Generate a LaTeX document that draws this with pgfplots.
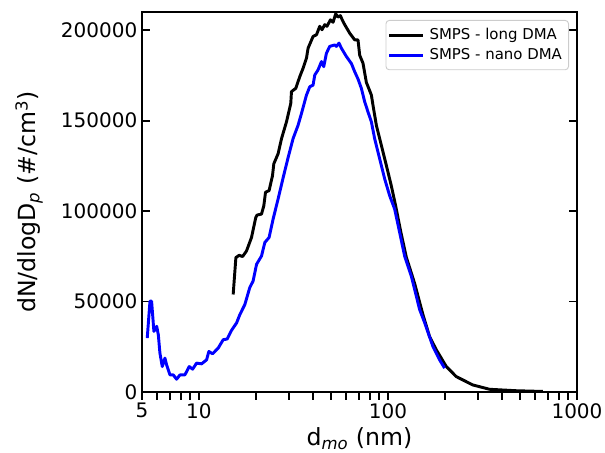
\documentclass[border=0pt]{standalone}
\usepackage{pgfplots}
\pgfplotsset{compat=1.18}
\usepackage{fontspec}
\setmainfont{DejaVu Sans}
\begin{document}
\begin{tikzpicture}
\begin{axis}[
  name=ax,
  scale only axis,
  width=326.25pt, height=285pt,
  xmode=log,
  xmin=5, xmax=1000,
  ymin=0, ymax=210000,
  xtick={5,10,100,1000},
  xticklabels={5,10,100,1000},
  minor xtick={6,7,8,9,20,30,40,50,60,70,80,90,200,300,400,500,600,700,800,900},
  ytick={0,50000,100000,150000,200000},
  scaled y ticks=false,
  yticklabel style={/pgf/number format/fixed,/pgf/number format/1000 sep={}},
  /pgf/number format/assume math mode=true,
  tick label style={font=\fontsize{15}{18}\selectfont},
  label style={font=\fontsize{17.7}{21}\selectfont},
  xtick pos=bottom,
  ytick pos=both,
  tick align=inside,
  major tick length=6pt,
  minor tick length=6pt,
  every tick/.style={black, line width=1.4pt},
  x tick style={yshift=-6pt},
  xticklabel style={yshift=-5pt},
  axis line style={line width=2.2pt},
  xlabel={d\textsubscript{\textit{mo}} (nm)},
  ylabel={dN/dlogD\textsubscript{\textit{p}} (\#/cm\textsuperscript{3})},
  x label style={at={(axis description cs:0.5,-0.142)}, anchor=base},
  y label style={at={(axis description cs:-0.2437,0.5)}, anchor=base},
  legend style={at={(axis description cs:0.9816,0.979)}, anchor=north east,
    draw=black!20, rounded corners=2.5pt, line width=0.7pt,
    font=\fontsize{11.2}{13.5}\selectfont, row sep=0pt,
    inner xsep=1.5pt, inner ysep=3.5pt,
    nodes={inner ysep=2pt, inner xsep=3.5pt, text height=8.5pt, text depth=2.5pt}},
  legend cell align=left,
  legend image code/.code={\draw[#1, line width=2.2pt] (0pt,0pt) -- (25.5pt,0pt);},
]
\addplot[black, line width=2.2pt, line join=round] coordinates {
(15.18,53890) (15.69,74280) (16.33,75560) (17.02,74840) (17.86,77950)
(18.98,85400) (20.00,96510) (20.32,97790) (21.44,98340) (22.05,102950)
(22.51,110400) (23.51,111300) (24.51,119600) (24.90,126100) (26.24,131700)
(27.35,140000) (29.06,149300) (30.62,159500) (30.88,166000) (32.54,167800)
(34.17,174300) (35.56,178900) (37.07,184500) (37.80,190000) (40.17,196500)
(41.87,197400) (43.57,202100) (44.80,200200) (46.30,203000) (47.61,202100)
(49.63,205700) (51.23,204300) (52.93,209000) (54.43,207200) (56.05,208000)
(57.43,205400) (59.06,203000) (62.76,198300) (66.70,194600) (69.43,194600)
(70.88,186100) (73.79,181700) (76.89,171100) (81.72,164100) (83.33,158500)
(86.84,147400) (92.28,136300) (98.07,125200) (104.2,113900) (109.8,102950)
(116.7,88900) (125.1,74450) (138.4,60000) (153.1,42780) (166.1,30560)
(180.2,23330) (203.5,14060) (229.8,8500) (281.2,3890) (344.5,1500)
(476.8,700) (659,300)
};
\addlegendentry{SMPS - long DMA}
\addplot[blue, line width=2.2pt, line join=round] coordinates {
(5.33,29800) (5.51,50200) (5.62,50200) (5.78,33500) (5.98,36280)
(6.10,31670) (6.22,21500) (6.40,14060) (6.61,18720) (6.75,15000)
(7.03,9450) (7.32,9450) (7.62,7060) (7.94,9450) (8.43,9450)
(8.89,14060) (9.26,12610) (9.72,15950) (10.33,15560) (10.98,17780)
(11.29,22390) (11.81,21110) (12.65,24280) (13.44,28890) (14.11,29280)
(14.88,34060) (15.82,38170) (16.47,42780) (17.50,48340) (18.59,57780)
(19.35,61280) (20.18,70560) (21.44,75170) (22.32,82620) (23.51,85400)
(24.69,95560) (26.24,106700) (27.88,118300) (29.63,129500) (31.48,140000)
(33.46,147400) (34.87,153900) (37.07,164100) (38.59,168700) (40.17,169600)
(41.01,175200) (42.68,178000) (44.49,182600) (45.74,179800) (47.27,187200)
(49.20,191000) (52.28,191800) (53.38,191000) (55.09,192800) (56.72,190000)
(60.28,185400) (64.08,181500) (66.70,177000) (69.43,173000) (72.36,167800)
(75.33,160400) (78.42,154800) (81.72,149300) (85.06,140000) (90.37,128900)
(96.07,117800) (102.1,108500) (108.5,101100) (115.3,88170) (122.5,75170)
(132.9,64060) (138.4,56670) (147.1,45560) (156.3,38340) (172.9,25170)
(187.6,17780) (199.4,13170)
};
\addlegendentry{SMPS - nano DMA}
\end{axis}
\pgfresetboundingbox
\path (ax.south west) ++(-106.5pt,-45.75pt) coordinate (bbl);
\path (ax.north east) ++(21pt,9pt) coordinate (btr);
\path[use as bounding box] (bbl) rectangle (btr);
\end{tikzpicture}
\end{document}
